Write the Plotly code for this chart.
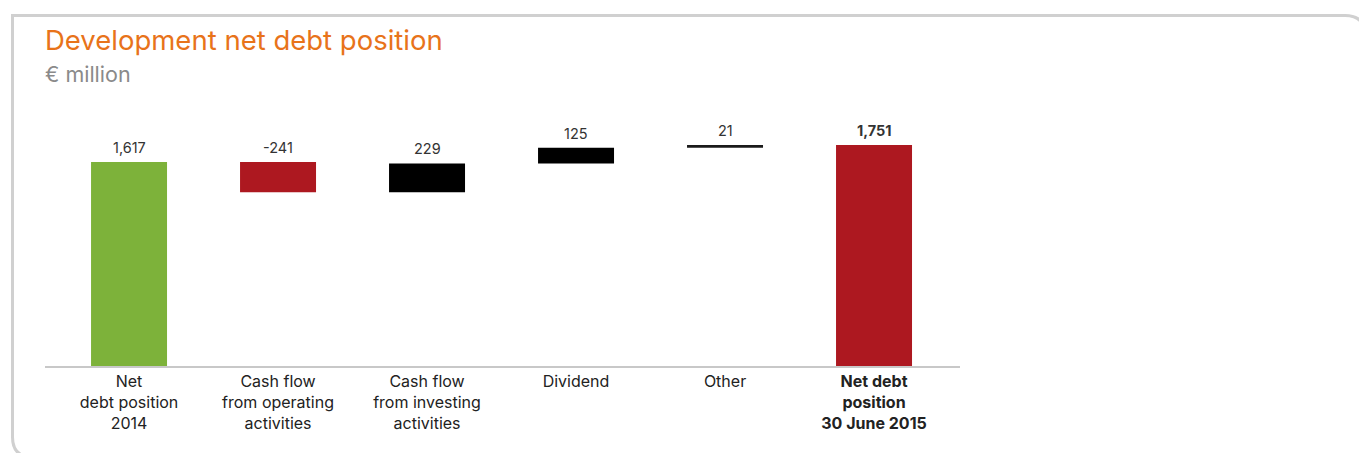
import plotly.graph_objects as go

categories = [
    "Net<br>debt position<br>2014",
    "Cash flow<br>from operating<br>activities",
    "Cash flow<br>from investing<br>activities",
    "Dividend",
    "Other",
    "<b>Net debt<br>position<br>30 June 2015</b>",
]
values = [1617, -241, 229, 125, 21, 1751]
measures = ["absolute", "relative", "relative", "relative", "relative", "total"]
value_labels = ["1,617", "-241", "229", "125", "21", "<b>1,751</b>"]
colors = ["#7db23a", "#ad1820", "#000000", "#000000", "#1a1a1a", "#ad1820"]

# waterfall geometry from values
bases, heights, tops = [], [], []
running = 0
for v, m in zip(values, measures):
    if m in ("absolute", "total"):
        bases.append(0)
        heights.append(v)
        running = v
    else:
        bases.append(running)
        heights.append(v)
        running += v
    tops.append(max(bases[-1], bases[-1] + heights[-1]))

xs = list(range(len(values)))

# layout geometry (pixels)
W, H = 1359, 453
L, R, T, B = 45, 960, 100, 366

FONT = "Inter"

fig = go.Figure()
fig.add_trace(go.Bar(
    x=xs, y=heights, base=bases,
    marker=dict(color=colors, line=dict(width=0)),
    width=0.51,
    hoverinfo="skip",
))

for x, t, lab in zip(xs, tops, value_labels):
    fig.add_annotation(
        x=x, y=t, text=lab, showarrow=False, yanchor="bottom",
        yshift=4, font=dict(family=FONT, size=14.5, color="#333333"),
    )

def px(xp):
    return (xp - L) / (R - L)

def py(yp):
    return (B - yp) / (B - T)

path = (
    f"M {px(32):.5f},{py(457):.5f} "
    f"Q {px(12.5):.5f},{py(457):.5f} {px(12.5):.5f},{py(437):.5f} "
    f"L {px(12.5):.5f},{py(15.5):.5f} "
    f"L {px(1345):.5f},{py(15.5):.5f} "
    f"Q {px(1365):.5f},{py(15.5):.5f} {px(1365):.5f},{py(35.5):.5f}"
)
fig.add_shape(type="path", xref="paper", yref="paper", path=path,
              line=dict(color="#d0d0d0", width=3))

fig.add_annotation(
    xref="paper", yref="paper", x=px(43), y=py(40), xanchor="left", yanchor="middle",
    text="Development net debt position", showarrow=False,
    font=dict(family=FONT, size=27.5, color="#e8731a"),
)
fig.add_annotation(
    xref="paper", yref="paper", x=px(43), y=py(74), xanchor="left", yanchor="middle",
    text="€ million", showarrow=False,
    font=dict(family=FONT, size=21.5, color="#8a8a8a"),
)

ymax = max(tops) / 221 * (B - T)
fig.update_layout(
    width=W, height=H,
    margin=dict(l=L, r=W - R, t=T, b=H - B, pad=0),
    paper_bgcolor="white", plot_bgcolor="white",
    showlegend=False,
    xaxis=dict(
        range=[-0.564, 5.577], tickvals=xs, ticktext=categories,
        showline=True, linecolor="#c8c8c8", linewidth=2,
        showgrid=False, zeroline=False, ticks="",
        tickfont=dict(family=FONT, size=16, color="#222222"),
        fixedrange=True,
    ),
    yaxis=dict(
        range=[0, ymax], visible=False, showgrid=False, zeroline=False,
        fixedrange=True,
    ),
)

fig.write_html("out.html", config={"displayModeBar": False})
